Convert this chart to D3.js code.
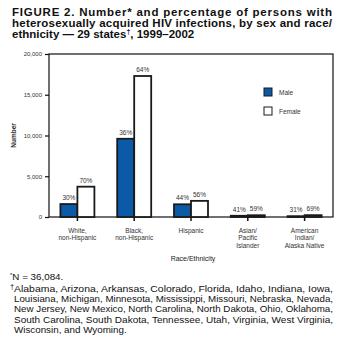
<!DOCTYPE html>
<html>
<head>
<meta charset="utf-8">
<script src="https://cdn.jsdelivr.net/npm/d3@7"></script>
<style>
  body { margin: 0; background: #fff; }
  svg text { font-family: 'Liberation Sans', Arial, sans-serif; }
</style>
</head>
<body>
<script>
// data
let categories = ['White,\nnon-Hispanic', 'Black,\nnon-Hispanic', 'Hispanic', 'Asian/\nPacific\nIslander', 'American\nIndian/\nAlaska Native'];
let sexes = ['Male', 'Female'];
let maleValues = [1590, 9600, 1560, 150, 100];
let femaleValues = [3720, 17300, 1980, 215, 225];
let malePct = ['30%', '36%', '44%', '41%', '31%'];
let femalePct = ['70%', '64%', '56%', '59%', '69%'];
let yTicks = [0, 5000, 10000, 15000, 20000];

let titleLines = [
  'FIGURE 2. Number* and percentage of persons with',
  'heterosexually acquired HIV infections, by sex and race/'
];
let noteLines = [
  'Alabama, Arizona, Arkansas, Colorado, Florida, Idaho, Indiana, Iowa,',
  'Louisiana, Michigan, Minnesota, Mississippi, Missouri, Nebraska, Nevada,',
  'New Jersey, New Mexico, North Carolina, North Dakota, Ohio, Oklahoma,',
  'South Carolina, South Dakota, Tennessee, Utah, Virginia, West Virginia,',
  'Wisconsin, and Wyoming.'
];

let colors = {Male: '#0a5aa8', Female: '#ffffff'};

let svg = d3.select('body').append('svg')
  .attr('width', 338)
  .attr('height', 345);

// title
let title = svg.append('g').attr('font-weight', 'bold').attr('font-size', '11.5px').attr('fill', '#111');
titleLines.forEach((t, i) => {
  title.append('text')
    .attr('x', 12).attr('y', 16 + i * 10.8)
    .attr('textLength', 320).attr('lengthAdjust', 'spacing')
    .text(t);
});
let t3 = title.append('text').attr('x', 12).attr('y', 16 + 2 * 10.8);
t3.append('tspan').text('ethnicity — 29 states');
t3.append('tspan').attr('dy', -4).attr('font-size', '7px').text('†');
t3.append('tspan').attr('dy', 4).text(', 1999–2002');

// chart area
let plotL = 49, plotR = 333, plotT = 54, plotB = 217;

let x = d3.scaleBand()
  .domain(categories)
  .range([plotL, plotR]);

let xs = d3.scaleBand()
  .domain(sexes)
  .range([0, 34]);

let y = d3.scaleLinear()
  .domain([0, 20000])
  .range([plotB, plotT]);

let rows = categories.map((c, i) => ({
  cat: c,
  vals: [
    {sex: 'Male', v: maleValues[i], pct: malePct[i]},
    {sex: 'Female', v: femaleValues[i], pct: femalePct[i]}
  ]
}));

// frame
svg.append('rect')
  .attr('x', plotL).attr('y', plotT)
  .attr('width', plotR - plotL).attr('height', plotB - plotT)
  .attr('fill', 'none').attr('stroke', '#111').attr('stroke-width', 1.2);

let yAxis = svg.append('g')
  .attr('transform', `translate(${plotL},0)`)
  .call(d3.axisLeft(y).tickValues(yTicks).tickSize(4).tickPadding(3).tickFormat(d3.format(',')));
yAxis.select('.domain').remove();
yAxis.selectAll('line').attr('stroke', '#111').attr('stroke-width', 1.2);
yAxis.selectAll('text').attr('font-size', '6px').attr('fill', '#333');

let xAxis = svg.append('g')
  .attr('transform', `translate(0,${plotB})`)
  .call(d3.axisBottom(x).tickSize(4).tickFormat(''));
xAxis.select('.domain').remove();
xAxis.selectAll('line').attr('stroke', '#111').attr('stroke-width', 1.5);

// category labels
rows.forEach(r => {
  let lines = r.cat.split('\n');
  let t = svg.append('text')
    .attr('text-anchor', 'middle')
    .attr('font-size', '6.5px')
    .attr('fill', '#333')
    .attr('x', x(r.cat) + x.bandwidth() / 2)
    .attr('y', 233);
  lines.forEach((l, j) => {
    t.append('tspan')
      .attr('x', x(r.cat) + x.bandwidth() / 2)
      .attr('dy', j == 0 ? 0 : 7.3)
      .text(l);
  });
});

// bars
let groups = svg.selectAll('g.cat')
  .data(rows)
  .enter()
    .append('g')
    .attr('class', 'cat')
    .attr('transform', d => `translate(${x(d.cat) + x.bandwidth() / 2 - 17},0)`);

groups.selectAll('rect')
  .data(d => d.vals)
  .enter()
    .append('rect')
    .attr('x', d => xs(d.sex))
    .attr('y', d => y(d.v))
    .attr('width', xs.bandwidth())
    .attr('height', d => plotB - y(d.v))
    .attr('fill', d => colors[d.sex])
    .attr('stroke', '#1a1a1a')
    .attr('stroke-width', 1.8);

groups.selectAll('text')
  .data(d => d.vals)
  .enter()
    .append('text')
    .attr('x', d => xs(d.sex) + xs.bandwidth() / 2)
    .attr('y', d => y(d.v) - 4)
    .attr('text-anchor', 'middle')
    .attr('font-size', '6.5px')
    .attr('fill', '#333')
    .text(d => d.pct);

// legend
let legend = svg.selectAll('g.legend')
  .data(sexes)
  .enter()
    .append('g')
    .attr('class', 'legend')
    .attr('transform', (d, i) => `translate(264,${88 + i * 19})`);
legend.append('rect')
  .attr('width', 8).attr('height', 8)
  .attr('fill', d => colors[d])
  .attr('stroke', '#1a1a1a').attr('stroke-width', 1);
legend.append('text')
  .attr('x', 15).attr('y', 7)
  .attr('font-size', '6.5px').attr('fill', '#333')
  .text(d => d);

// axis titles
svg.append('text')
  .attr('transform', `translate(16,${(plotT + plotB) / 2}) rotate(-90)`)
  .attr('text-anchor', 'middle')
  .attr('font-size', '6.5px').attr('font-weight', 'bold').attr('fill', '#222')
  .text('Number');

svg.append('text')
  .attr('x', 193).attr('y', 261)
  .attr('text-anchor', 'middle')
  .attr('font-size', '7px').attr('fill', '#222')
  .text('Race/Ethnicity');

// footnotes
let notes = svg.append('g').attr('font-size', '9.8px').attr('fill', '#111');
let n1 = notes.append('text').attr('x', 10).attr('y', 280);
n1.append('tspan').attr('font-size', '6px').attr('dy', -3).text('*');
n1.append('tspan').attr('dy', 3).text('N = 36,084.');
notes.append('text').attr('x', 10).attr('y', 289).attr('font-size', '7.5px').text('†');
noteLines.forEach((l, i) => {
  let t = notes.append('text')
    .attr('x', 14).attr('y', 292 + i * 10.2)
    .text(l);
  if (i < noteLines.length - 1) t.attr('textLength', 319).attr('lengthAdjust', 'spacingAndGlyphs');
});
</script>
</body>
</html>
